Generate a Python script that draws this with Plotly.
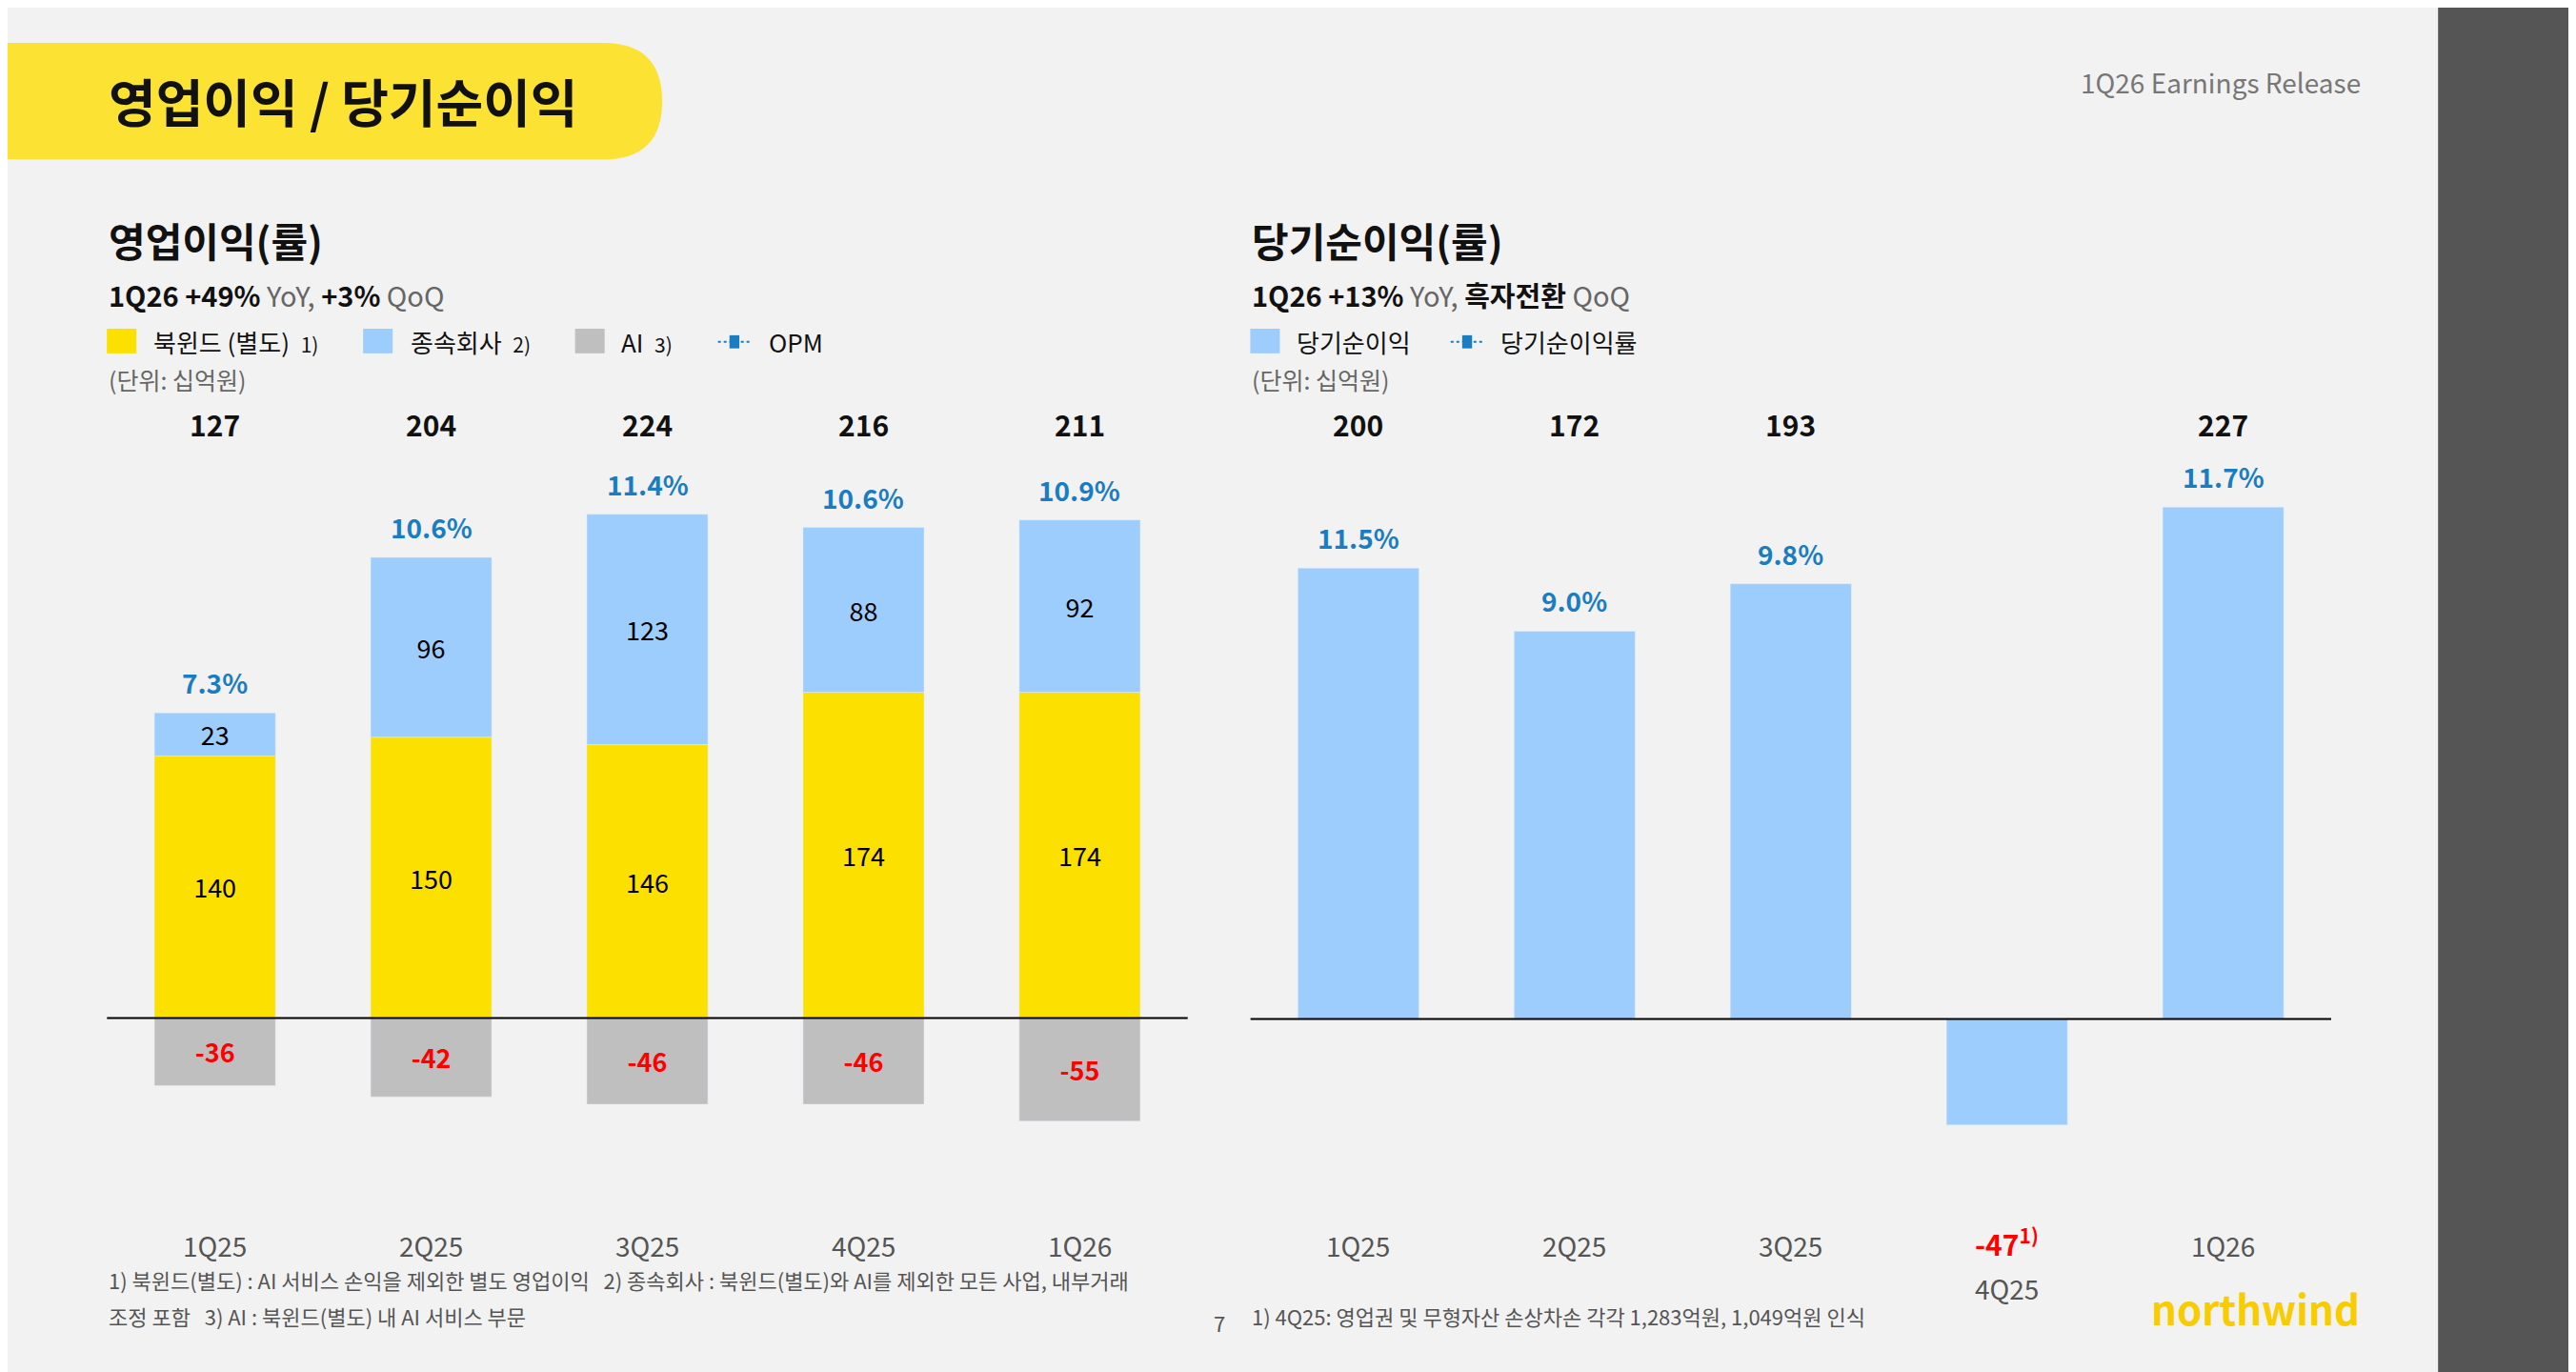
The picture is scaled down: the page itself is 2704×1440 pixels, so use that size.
import plotly.graph_objects as go

# 영업이익 data (십억원)
quarters = ["1Q25", "2Q25", "3Q25", "4Q25", "1Q26"]
northwind_sep = [140, 150, 146, 174, 174]
subsidiaries = [23, 96, 123, 88, 92]
ai_loss = [-36, -42, -46, -46, -55]
op_total = [127, 204, 224, 216, 211]
opm = ["7.3%", "10.6%", "11.4%", "10.6%", "10.9%"]

# 당기순이익 data
net_income = [200, 172, 193, -47, 227]
net_margin = ["11.5%", "9.0%", "9.8%", "", "11.7%"]

FONT = "Noto Sans CJK KR"
YELLOW = "#fce100"
BLUE = "#9dcdfc"
GRAY = "#bfbfbf"
OPMC = "#1a7cc1"
RED = "#ff0000"

# reference laid out on a 1568x835 grid (page body margin compensated)
def px(x):
    return (x - 4.6) / 1568

def py(y):
    return 1 - (y - 4.6) / 835

fig = go.Figure()

fig.add_trace(go.Bar(x=quarters, y=northwind_sep, marker_color=YELLOW, width=0.56,
                     text=northwind_sep, textposition="inside", insidetextanchor="middle",
                     textfont=dict(size=27, color="black", family=FONT), xaxis="x", yaxis="y"))
fig.add_trace(go.Bar(x=quarters, y=subsidiaries, marker_color=BLUE, width=0.56,
                     text=subsidiaries, textposition="inside", insidetextanchor="middle",
                     textfont=dict(size=27, color="black", family=FONT), xaxis="x", yaxis="y"))
fig.add_trace(go.Bar(x=quarters, y=ai_loss, marker_color=GRAY, width=0.56,
                     text=ai_loss, textposition="inside", insidetextanchor="middle",
                     textfont=dict(size=27, color=RED, family=FONT, weight="bold"), xaxis="x", yaxis="y"))
fig.add_trace(go.Bar(x=quarters, y=net_income, marker_color=BLUE, width=0.56,
                     xaxis="x2", yaxis="y2"))

ann = []
def lab(x, y, xref, yref, s, size, color, **kw):
    d = dict(x=x, y=y, xref=xref, yref=yref, text=s, showarrow=False, yanchor="middle",
             font=dict(size=size, color=color))
    d.update(kw)
    ann.append(d)

for i, q in enumerate(quarters):
    lab(q, py(258), "x", "paper", f"<b>{op_total[i]}</b>", 30, "#111")
    top = northwind_sep[i] + subsidiaries[i]
    lab(q, top, "x", "y", f"<b>{opm[i]}</b>", 28, OPMC, yanchor="bottom", yshift=10)
    lab(q, py(758), "x", "paper", q, 28, "#555")
    if net_income[i] > 0:
        lab(q, py(258), "x2", "paper", f"<b>{net_income[i]}</b>", 30, "#111")
        lab(q, net_income[i], "x2", "y2", f"<b>{net_margin[i]}</b>", 28, OPMC,
            yanchor="bottom", yshift=10)
        lab(q, py(758), "x2", "paper", q, 28, "#555")
    else:
        lab(q, py(756), "x2", "paper", f"<b>{net_income[i]}<sup>1)</sup></b>", 30, RED)
        lab(q, py(784), "x2", "paper", q, 28, "#555")

def text(x, y, s, size, color="#111", anchor="left"):
    lab(px(x), py(y), "paper", "paper", s, size, color, xanchor=anchor)

text(65, 61, "<b>영업이익 / 당기순이익</b>", 54)
text(1438, 50, "1Q26 Earnings Release", 28, "#777", "right")
text(65, 146, "<b>영업이익(률)</b>", 42)
text(761, 146, "<b>당기순이익(률)</b>", 42)
text(65, 179, "<b>1Q26 +49%</b> <span style='color:#666'>YoY,</span> <b>+3%</b> <span style='color:#666'>QoQ</span>", 29)
text(761, 179, "<b>1Q26 +13%</b> <span style='color:#666'>YoY,</span> <b>흑자전환</b> <span style='color:#666'>QoQ</span>", 29)
text(92, 208, "북윈드 (별도)  <span style='font-size:21px'>1)</span>", 26)
text(249, 208, "종속회사  <span style='font-size:21px'>2)</span>", 26)
text(377, 208, "AI  <span style='font-size:21px'>3)</span>", 26)
text(467, 208, "OPM", 26)
text(788, 208, "당기순이익", 26)
text(912, 208, "당기순이익률", 26)
text(65, 231, "(단위: 십억원)", 25, "#666")
text(761, 231, "(단위: 십억원)", 25, "#666")
text(65, 779, "1) 북윈드(별도) : AI 서비스 손익을 제외한 별도 영업이익   2) 종속회사 : 북윈드(별도)와 AI를 제외한 모든 사업, 내부거래", 22, "#555")
text(65, 801, "조정 포함   3) AI : 북윈드(별도) 내 AI 서비스 부문", 22, "#555")
text(742, 805, "7", 22, "#555", "center")
text(761, 801, "1) 4Q25: 영업권 및 무형자산 손상차손 각각 1,283억원, 1,049억원 인식", 22, "#555")
text(1373, 796, "<b>northwind</b>", 42, "#f9cc00", "center")

def rect(x0, y0, x1, y1, color):
    return dict(type="rect", xref="paper", yref="paper", x0=px(x0), x1=px(x1),
                y0=py(y1), y1=py(y0), fillcolor=color, line_width=0, layer="below")

shapes = [
    rect(1484, 0, 1580, 845, "#555555"),
    dict(type="path", xref="paper", yref="paper", fillcolor="#fce232", line_width=0, layer="below",
         path=f"M {px(-10)} {py(26)} L {px(367)} {py(26)} Q {px(403)} {py(26)} {px(403)} {py(61.5)} "
              f"Q {px(403)} {py(97)} {px(367)} {py(97)} L {px(-10)} {py(97)} Z"),
    rect(65, 200, 83, 215, YELLOW),
    rect(221, 200, 239, 215, BLUE),
    rect(350, 200, 368, 215, GRAY),
    rect(761, 200, 779, 215, BLUE),
]
for x0 in (437, 883):
    shapes.append(dict(type="line", xref="paper", yref="paper", x0=px(x0), x1=px(x0 + 20),
                       y0=py(208), y1=py(208), line=dict(color=OPMC, width=2, dash="dot")))
    shapes.append(rect(x0 + 7, 204, x0 + 13, 212, OPMC))
shapes.append(dict(type="line", xref="x", yref="y", x0=-0.5, x1=4.5, y0=0, y1=0,
                   line=dict(color="black", width=2)))
shapes.append(dict(type="line", xref="x2", yref="y2", x0=-0.5, x1=4.5, y0=0, y1=0,
                   line=dict(color="black", width=2)))

ax = dict(showticklabels=False, showgrid=False, zeroline=False, range=[-0.5, 4.5],
          fixedrange=True)
fig.update_layout(
    width=2704, height=1440, margin=dict(l=0, r=0, t=0, b=0),
    paper_bgcolor="#f2f2f2", plot_bgcolor="rgba(0,0,0,0)",
    barmode="relative", showlegend=False,
    font=dict(family=FONT),
    xaxis=dict(ax, domain=[px(65), px(723)]),
    xaxis2=dict(ax, domain=[px(761), px(1419)]),
    yaxis=dict(showticklabels=False, showgrid=False, zeroline=False, range=[-110, 333],
               domain=[py(745), py(240)]),
    yaxis2=dict(showticklabels=False, showgrid=False, zeroline=False, range=[-91, 277],
                domain=[py(745), py(240)]),
    annotations=ann, shapes=shapes,
)

fig.write_html("out.html")
